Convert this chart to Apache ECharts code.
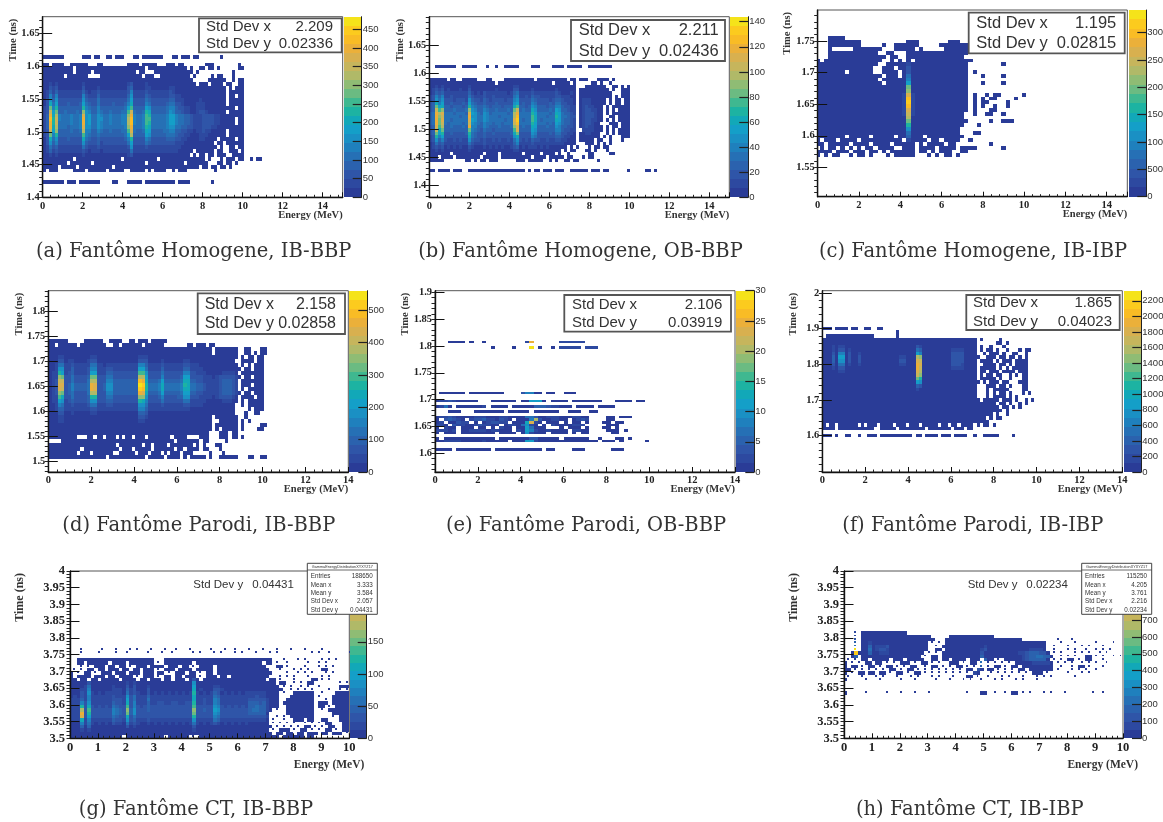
<!DOCTYPE html>
<html><head><meta charset="utf-8">
<script src="https://cdn.jsdelivr.net/npm/echarts@6/dist/echarts.min.js"></script>
<style>html,body{margin:0;padding:0;background:#fff}#c{width:1163px;height:822px;filter:blur(.35px)}</style>
</head><body><div id="c"></div>
<script>
// Cell rows: top to bottom, one character per bin. "." empty, 1-9 then a-k = colour band 1..20.
const rowsA=[
"1111111......111.11..11.111...11.1111111...11.111.11.......1",
"",
"11.1111..111111...11........1111.11111...111.11.......111........1",
"1111111111.11111111111111111111111.1111111111111.1..11.11.1......11",
"1111111111.11111.11111111111111.11...1111111111111.1...........1",
"1111111.1111111....11111111111111.111..1111111111.1.....1.11...1",
"11111111111111111111111111111111111111111111111111.....111111..1.11",
"11 212 11111111 211 1111 11111111 23 1111 21 111111 11 11111 11.111.1111.11..11",
"11 323 11111111 311 1121 11111111 34 1111 22 111111 22 11111 111111111111.1.111",
"12 424 22222222 421 2232 22222222 36 2222 32 222222 32 11111 111111111111.11111",
"12 636 22222222 632 2242 22222222 47 2222 43 222222 33 22111 111111111111.11.11",
"13 747 33333333 743 3353 33333333 58 3333 54 333333 44 22211 111211111111.11111",
"13 958 33343334 854 3353 33343334 69 3333 65 333334 55 33211 112221111111.11111",
"23 c6a 44444444 a65 4464 44444445 8b 4444 87 444445 66 43322 112221111111111.11",
"23 f8c 44544454 d76 4465 44544455 bf 5445 a9 444445 76 44322 112332111111.11111",
"24 h9e 65556556 g78 5576 55655566 dh 6556 ba 555556 88 65544 322233332211111111",
"24 iaf 65556556 h78 5577 55655566 ei 6556 bb 555556 88 65544 322233332211111.11",
"24 haf 55556556 h78 5576 55655566 ei 6556 ba 555556 88 65544 322233332211111.11",
"24 h9e 55545556 g77 5576 55555556 dh 5556 a9 555556 77 55443 322233322111111111",
"23 f8d 44445445 e66 4465 44544455 bg 5445 98 444455 66 44332 212232211111.11111",
"23 c6a 44444444 b65 4454 44444445 8e 4444 87 444445 55 43322 111222111111.11111",
"13 957 33343333 954 3343 33333334 6a 3333 65 333334 44 33221 111221111.11111.11",
"13 746 33333333 743 3342 33333333 58 3333 54 333333 33 22211 11111111.11.111111",
"12 534 22222222 532 2232 22222222 37 2222 32 222222 22 22111 111111111.1..11.11",
"12 423 22222222 321 2221 22222222 25 2222 22 222222 22 21111 1.111111.11..111.1",
"11 212 11111111 211 1111 11111111 23 1111 11 111111 11 11111 .1.11.11.111..1111",
"1111111111.111111111111111.11111111111.111111111111111.1...1.111.11..1.11",
"11111111.1111111.11111111111111111.111111111111.1111111...11.11.1",
"11111.11111.11111111111.1111111111111111111111111111.11.11.11.1",
"1.111.....1111.111111.11111..11111.1.1111..1.111.........1",
"",
"",
"111111 1.111.1111111....11...11111.11111 11 111.11 11.......1"];
const rowsB=[
"..1111111..11111...1..1..11111....111....1111.11111..11111111",
"",
"",
"",
"111111.11..11111...11....1111111111.1111111111.11.111...1111.1",
"11 111 11111111 111 1111 11.11111 11 1111 11 11111. 11 111.1 .....11.1..1",
"11 212 11111111 211 1111 11111111 22 1111 11 111111 11 11111 ...1111111..11.1.1",
"12 323 12111211 311 1111 11211111 33 1111 21 111111 21 11111 .1111111111.1..111",
"12 434 22222222 421 2132 22222212 45 2222 32 222222 32 11121 .11111111111...111",
"23 646 22322222 532 2232 23222222 56 2232 43 322222 33 22211 .11111111111.1.111",
"23 757 33323332 743 3243 23333233 67 3333 54 333323 44 32221 .122211111.1.11.11",
"34 968 33433343 854 3343 33433333 78 3433 65 333343 55 33221 .122211111.1.11.11",
"34 c89 44344434 a65 4454 34443444 9b 4434 76 444344 66 43322 .12322111.1.111111",
"34 fbd 44454445 d76 4465 44544454 cf 4544 97 444454 87 44322 .12332211.1.1.1111",
"45 heg 55545554 g87 5476 45555545 eh 5555 a8 555545 98 54432 .12333211.1.111111",
"45 hdf 55555455 h77 5576 55545555 ei 5555 b9 555455 a8 55433 .12333211..11.1111",
"45 hcg 55455555 g87 5576 55555455 gj 5455 b9 545555 98 54432 .12332211.1.1.1111",
"45 hcf 54555545 f76 5465 54554555 fi 5555 a8 555454 87 54432 .1233211...111.111",
"34 gbe 44544454 h66 4465 44454445 dg 4544 98 444544 76 44332 .12322111.1.11.111",
"34 f9c 44444444 c65 4354 43444444 bg 4444 87 444444 66 43322 ..2222111.1.1.1111",
"34 c8a 33433334 a54 3343 34333334 9c 3333 76 333343 55 33221 .1122111..1.1.1111",
"23 a68 33333333 954 3343 33333333 79 3333 65 333333 44 32211 .1111111.1.1...111",
"23 746 32232322 743 3232 23232232 57 3232 43 322322 33 22111 .11111.11..1...1",
"12 534 22222222 532 2232 22222222 46 2222 32 222222 22 21111 ...111.1.1.1",
"12 323 12121211 321 1121 21212112 34 1212 22 121211 11 11.1. 1...1.11.11",
"11 212 11111111 211 1111 11111111 22 1111 11 111111 11 .1.11 ...11.1...1",
"11 111 11.11111 111 11.1 111.1111 11 1.11 11 1.1111 .1 ..1.. ....11.....11",
"111.1111.11111111.11111.1111111111.1111.11111.11...1.11",
"11111.......11.1.11.111......111.11111..1.1..11.11......1",
"",
"",
"11.1111.111..1111111111111111111.1.11.111.111..111111.111.11......1.....11.1"];
const rowsC=[
"...1111",
"...11111111...........111.......111",
"...11111111.....1..111111.....1111111",
"...1.....1111111...11111.1.....1111111",
"...111111111111..11...111111111111111",
"...11111111111111.11..11111111111111",
"1.11111111111111..1.1.1.11111111111111",
"111111111111111..11111 2 11111111111111........1",
"11111111111111..111.11 3 11111111111111",
"1111111.111111..1111.1 3 11111111111111.1",
"1111111111111111.111.1 5 11111111111111...1....1",
"111111111111111.11111 1 6 11111111111111",
"1111111111111111.1111 1 8 11111111111111...1....1",
"111111111111111111111 1 c 11111111111111",
"111111111111111111111 1 d 11111111111111",
"111111111111111111111 2 g 21111111111111.1..1.11.....1",
"111111111111111111111 2 i 21111111111111.1.1.11....1",
"111111111111111111111 2 j 21111111111111.1.11....1",
"111111111111111111111 2 i 21111111111111.1.1..1..1",
"111111111111111111111 2 g 21111111111111.1...11",
"111111111111111111111 2 f 2111111111111..1..11..1",
"111111111111111111111 1 e 1111111111111",
"111111111111111111111 1 c 11111111111111.....1..111",
"111111111111111111111 1 a 1111111111111...1",
"111111111111111111111 1 7 111111111111",
"111111111111111111111 1 5 111111111111...11",
"1111111.11111.11111.1 1 4 111.111111111",
"1.111.1111.1111111111 . 2 1111.11.1111..1",
"11.11111.1111.1111.11 1 1 1.1.1111.11........1",
".1.11.1.1.1.11.1111.. 1 1 1.1111.1111.1111......1",
"1111.111.111.11.1.111 1 1 1.11.1.111..11",
"1.1.11..1.11.1...1.11 1 1 1...1.1.11.1"];
const rowsD=[
"111111.....111111..1111..11.111.11111",
"11.111111.11111111..11.111111.111111.......11.111.11",
"111111111111111111111111111111111111111111111111111.1111111..11...11",
"111 11 11 1 1111 111 111 11 11111111 111 1111 1 111111 11 1111111 .1111111 ..11.1.11",
"111 22 11 1 1111 122 111 11 11111111 222 1111 1 111111 11 1111111 11111111 .1.11.11",
"111 33 12 2 1111 233 111 11 11111111 333 1111 2 111111 22 1111111 1111111. .1111.11",
"112 55 22 3 2222 255 221 22 22222222 664 2222 3 222222 33 2221111 11111111 .1.1.111",
"112 77 22 4 2222 366 222 33 22222222 885 2222 4 222222 44 2222111 11111111 1.11.111",
"122 a8 23 4 2222 388 222 44 33333333 bb7 3333 5 333333 66 3322211 11122221 .1111111",
"122 dc 33 5 3333 4cc 333 55 33333333 ee8 3333 6 333334 88 3333222 12333332 1.11.111",
"123 ff 33 5 3333 5ee 333 66 44444444 ih9 4445 8 444445 99 4433222 22344432 .1111111",
"123 gg 34 6 4444 5hg 334 77 44444444 kja 5556 9 555556 a9 5544322 22344432 .111.111",
"123 gf 34 6 4444 5hg 334 77 44444444 jia 5556 9 555556 99 5544322 22344432 .1.11111",
"123 dc 34 5 3333 5ee 333 66 44444444 hg9 4445 8 444445 88 4433222 22344432 1.11.111",
"122 b9 33 5 3333 4aa 333 55 33333333 dd7 3334 6 333344 77 3332222 12333321 .1111.11",
"122 87 23 4 3333 477 333 44 33333333 a96 3333 5 333333 55 2222211 11122211 .1.11111",
"112 65 22 3 2222 355 222 33 22222222 775 2222 3 222222 33 2222111 1111111. .1.11111",
"112 44 22 2 2222 233 222 22 22222222 664 2222 2 222222 22 1111111 1111111. ...1.111",
"111 33 11 2 1111 122 111 11 11111111 443 1111 1 111111 11 1111111 1111111. ..1..11.",
"111 22 11 1 1111 111 111 11 11111111 332 1111 1 111111 11 1111111 .1111111 ..1",
"111 22 11 1 1111 111 111 11 11111111 221 1111 1 111111 11 1111111 ..111111 .1.1",
"111 11 11 1 1111 111 111 11 11111111 111 1111 1 111111 11 1111111 .1111111 .1.....11",
"111 11 11 1 1111 111 111 11 11111111 111 1111 1 111111 11 1111111 .1.11111 .1....11",
"111 11 11 1 1111 111 111 11 11111111 111 1111 1 111111 11 111111. ..111.11",
"111111111...11.11.111.1.11.111.1111111.1111....111...111.11.1",
"....11111111111111111111111111111111111.1111111.11.....1",
"111111111111111111111.1111111.11.1111.1111111.1.1...11",
"1111111111.11111111111.111.11111.111111.11.1111.11...1",
"111111111.111.111111..11111.111.111.1.111.111.....1...1",
"111111111111111111.11111111111.11111.1111.1.11111.1..111111...11..11"];
const rowsE=[
"...1111.1..1.........2h......222222",
"",
".............1....1...k.1..1.22222.222",
"","","","","","","","","","","","","","","","",
".111111.11111111....36611.11..111",
"",
"",
"1223211111...111111.11888 1.1111.1111111...1111.11",
"",
"1251.1111112.1111.11111444322111.1111.1111",
"",
"...111...1111111.11111.111111..111..11",
"",
"122321111222111221111553112221112211....11.111",
"1.34321.2334221321.1 116e 3112211.1232 ....11",
"12.11322.1.123322.11 19g2 1.111.1.11.1 ...11.11",
"221.3221123 2211.122 1572 1.1.21111222 .....111",
"1.211.111.11.1.211.1 1851 11...1.111.1 ...11.1",
"22212.112222122111.2 1862 1121111.2211 ....111.1",
"1.111.11111111.1111.1 72 111.1111.1.11 .....11",
"",
"1.111111111111.11111 1133 11111.111111 ..1...11.1",
"11222211111211111.11 1882 111111111111 11.111.1.....1",
"","",
"1111.11111111.11111111111.11....111......111"
];
const rowsF=[
"111.1111.11..11..11",
".......................1",
".111111111111111.......1",
"111 1 1 11 1 1 11 1 111111111111 11 111 11 111111111 1111 1111 .1.....1",
"111 1 1 11 1 1 11 1 111111111111 11 111 11 111111111 1111 1111 ......11.1",
"111 2 1 22 1 1 11 1 111111111111 11 111 32 111111111 1111 1111 .1..1...1",
"111 2 1 33 1 2 11 1 111111111111 11 111 54 111111111 2222 1111 .1.11.1..1...1.11",
"111 3 1 66 1 3 11 2 111111111111 11 111 86 111111111 3333 1111 ..1.111.1..11..1",
"111 4 1 88 1 3 11 3 111111111111 22 111 ed 111111111 3333 1111 1..111.11.11.1.1",
"111 4 1 77 1 3 11 3 111111111111 33 111 gf 111111111 3333 1111 .1111.1.111.1111",
"111 3 1 55 1 2 11 2 111111111111 22 111 hg 111111111 3332 1111 ..1111.11.1.1111",
"111 2 1 33 1 1 11 1 111111111111 11 111 hf 111111111 2222 1111 .11111.1.1.11111",
"111 1 1 22 1 1 11 1 111111111111 11 111 ge 111111111 1111 1111 .11.111.1111.111",
"111 1 1 11 1 1 11 1 111111111111 11 111 fd 111111111 1111 1111 .1.11.11..1.1.11",
"111 1 1 11 1 1 11 1 111111111111 11 111 ca 111111111 1111 1111 .11111.1..1...11",
"111 1 1 11 1 1 11 1 111111111111 11 111 87 111111111 1111 1111 1.1.111.11...111",
"111 1 1 11 1 1 11 1 111111111111 11 111 43 111111111 1111 1111 ...111.11.1...11",
"111 1 1 11 1 1 11 1 111111111111 11 111 21 111111111 1111 1111 ...1.11111....11",
"111 1 1 11 1 1 11 1 111111111111 11 111 11 111111111 1111 1111 ...1.1.11.1...1.1",
"111 1 1 11 1 1 11 1 111111111111 11 111 11 111111111 1111 1111 ...1.1111.1.1",
"111 1 1 11 1 1 11 1 111111111111 11 111 11 111111111 1111 1111 1.11111.111.1..1.1",
"111 1 1 11 1 1 11 1 111111111111 11 111 11 111111111 1111 1111 111111.11.1..1.1",
"111 1 1 11 1 1 11 1 111111111111 11 111 11 111111111 1111 1111 1111111.11.1.1",
"111 1 1 11 1 1 11 1 111111111111 11 111 11 111111111 1111 1111 11111111.1",
"111 1 1 11 1 1 11 1 111111111111 11 111 11 111111111 1111 1111 11111.1..1",
"111 1 1 11 1 1 11 1 111111111111 11 111 11 111111111 1111 1111 111.1.11",
"111 1 1 11 1 1 11 1 111111111111 11 111 11 111111111 1111 1111 1111",
"1.11.111111.1.111.1111.111.111.11111.11.11.1111.1.11.1",
"1111.11111111111..11111.11111111.1111111.111.11",
"",
"111.1..11..1..111.1111111111.11.1111.111.1111..1..11111....1"];
const rowsG=[
"...1.....1...1...1.1...1...1..1...1.....1...1..1...1...1...1...1...1....1",
"...1....1....1..1.....1...1..1.....1.1...1.1...1.1...1...1.1.........1.1..1.....1",
"",
"..1111111111111111111111...1111111111111111111111111111111...1...1.1....1.1.1",
"..11.111111.1111.1111111.1.11111111.1111111111111111111.11.1..1.....1..1.1",
"...1.1.111.11.11.1.111.1111.111.11.1.1111.11111111111111...11.1....1...1.1.1",
".1.1.11.11.111.11.11.111.1.111.1111.11111.111111111111111...1...1.1.1...11",
"1.1.11.1.111.111.111.111.11.1.111.11.1.11.1111111111111111....1..1.1.1...1.1",
"1.1111.111.11.1111.1.111.1.11.11.111.1.111.11.11111111111...1.1.1...1...1.1.",
"11.11.11.11111.1111.11.111.11.111.1 3 1.111111111111111111.11.1...1....11.1.1",
"111 1 1 3 111111 11 11 2 1 2 111 1 111111111111 7 11111 11 11111111 11111 111.11 ..1.1.11 .... ...1.1",
"111 1 2 5 111111 21 11 3 1 3 111 2 111111111111 8 11111 22 11111111 11111 1111.1 .1..1.1. .1.. ...111",
"111 2 2 6 111111 22 21 4 2 3 111 3 111111111111 9 12111 33 21111111 11111 11111. .1.1.1.1 .... 1..1.1",
"111 3 2 7 212122 22 21 5 2 3 211 3 121212121212 a 21212 43 12121212 22222 1111.1 ..111111 ..1. ..1111",
"121 3 2 6 222222 32 22 7 3 5 222 4 222222222222 9 22222 54 22222222 22322 1111.. .1111111 .1.. .11111",
"222 4 2 6 222222 33 32 8 3 5 222 5 222222222222 9 22322 65 22222222 33333 2111.. 11111111 ...1 .11111",
"222 6 3 7 222222 43 32 9 3 6 222 4 223322332233 a 22322 65 22222222 44434 2111.1 11111111 .111 .11111",
"222 a 3 9 323232 54 33 b 3 6 323 4 333333333333 b 33333 76 32323232 44544 2111.. 11111111 .11. 1.1111",
"222 e 3 b 333333 65 43 d 4 7 333 4 333333333333 d 33433 87 33333333 45544 21.1.. 11111111 ..1. 111111",
"222 h 3 a 333333 65 43 c 4 7 333 3 333333333333 c 33333 76 33333333 44444 1..... 11111111 .... .11111",
"222 g 3 8 333333 54 33 9 3 5 333 3 333333333333 a 33333 65 33333333 33333 2..1.1 .1111111 .... .1.111",
"222 9 2 6 222222 43 32 7 3 4 222 3 222222222222 7 22222 54 22222222 22222 1.1..1 ..111.11 ..11 ...111",
"111 6 2 5 212121 32 21 5 2 3 211 2 121212121212 5 21212 32 12121212 11111 1.1.1. 1.1..1.1 .1.1 1...11",
"111 4 1 4 111111 11 11 3 1 2 111 1 111111111111 3 11111 11 11111111 11111 11.1.1 .1.1.11. 1.1. 11..11",
"111 2 1 2 111111 11 11 1 1 1 111 1 111111111111 2 11111 11 11111111 11111 1.1.11 1.1.11.1 .1.1 1.1.11",
"111 1 1 1 111111 11 11 1 1 1 111 1 111111111111 1 11111 11 11111111 11111 11.11. 11.11.11 1.11 .111.1",
"111 1 1 1 111111 11 1.1 1 1 11 111111.111111.1. 1 1111111111 11111111 1111.1 11 111.11"];
const rowsH=[
"...2.1111111111111",
"...2.11111111111111111111.....1111111111111",
"...3.111111111111111111111...1111111111111111111111..........1...1",
"...4.1121111111111111111.1.1.11111111111111111111111111111....1...1.....1....1",
"...5.1141222311111111111..1.111111111111211111111111111111..1...1...1.1...1",
"...k.1151233211111111111..11.11111111112311111111111122221..1...1.1..1..1.1.1",
"..1j1114112221111111111.1.1.1111111111131111111111223444331.1.1...1.1.1..1.1",
"..14.11111111111111111.1.11.11111111111411111111111234455441..1.1.1..11.1.1..1.1",
".1.1.11.11111.111.11111..11.11.1111.111.411.1.1111123444441.1.1.11.1.11...1",
"1.1.1.11.11.1.1.111.1.11.1.1..111.1.11.5.1.1.1.1.11111222221.1.1.1..1.1.1..1",
"1.11.1.11.1.11.1.1.11..1.11.1.1.11.1.1.4.1.11.1.11.111111111..1..1.11.1...1",
"11.1.1.1.1.1.11.1.11.1.1.1.1.1.1.1.11.31.11.1.1.1.11.1111111.1...1.1.1..1",
"1.1.11.11.11.1.11.1.11.1.1.1.1.1.1.1.21...1.1.1.1.1.1.111.1.....1...1.1",
".1...1...1.1...1...1.1...1.1...1...11.1..1...1.1...1...1.1.1......1",
"1.....1...1.....1...1.....1...1...1.1..1...1.1...1.1...1",
"",
"",
"",
"1.....1.....1...1...1...1..........1...11..1..1.11.1.1...1.1...1.......1..1"];
// Colour band palette, bottom to top of the scale.
const bird=["#2a3c97","#2d49a0","#2f55a8","#2b62ae","#2670b5","#1f80bd","#1a90c4","#149fc8","#12a8b8","#1db3a2","#3fb890","#6bbb82","#8fbc74","#b0b968","#c6b55c","#d8b04f","#ebb03a","#f9bc25","#fccb1e","#f5e31a"];
const zMaxes=[484,144,3415,560,30,2330,260,990];
const zTicks=[[0,50,100,150,200,250,300,350,400,450],[0,20,40,60,80,100,120,140],[0,500,1000,1500,2000,2500,3000],[0,100,200,300,400,500],[0,5,10,15,20,25,30],[0,200,400,600,800,1000,1200,1400,1600,1800,2000,2200],[0,50,100,150],[0,100,200,300,400,500,600,700]];
const yTicks=[[1.4,1.45,1.5,1.55,1.6,1.65],[1.4,1.45,1.5,1.55,1.6,1.65],[1.55,1.6,1.65,1.7,1.75],[1.5,1.55,1.6,1.65,1.7,1.75,1.8],[1.6,1.65,1.7,1.75,1.8,1.85,1.9],[1.6,1.7,1.8,1.9,2],[3.5,3.55,3.6,3.65,3.7,3.75,3.8,3.85,3.9,3.95,4],[3.5,3.55,3.6,3.65,3.7,3.75,3.8,3.85,3.9,3.95,4]];
const yRanges=[[1.4,1.676],[1.378,1.7005],[1.5036,1.799],[1.479,1.8405],[1.565,1.903],[1.498,2.0065],[3.5,4],[3.5,4]];
const xMaxes=[15,15,15,14,14,14,10,10];
const xTickEven=[0,2,4,6,8,10,12,14];
const xTickUnit=[0,1,2,3,4,5,6,7,8,9,10];
const captions=["(a) Fantôme Homogene, IB-BBP","(b) Fantôme Homogene, OB-BBP","(c) Fantôme Homogene, IB-IBP","(d) Fantôme Parodi, IB-BBP","(e) Fantôme Parodi, OB-BBP","(f) Fantôme Parodi, IB-IBP","(g) Fantôme CT, IB-BBP","(h) Fantôme CT, IB-IBP"];
const stdX=["2.209","2.211","1.195","2.158","2.106","1.865"];
const stdY=["0.02336","0.02436","0.02815","0.02858","0.03919","0.04023","0.04431","0.02234"];
const statsG=[["Entries","188650"],["Mean x","3.333"],["Mean y","3.584"],["Std Dev x","2.057"],["Std Dev y","0.04431"]];
const statsH=[["Entries","115250"],["Mean x","4.205"],["Mean y","3.761"],["Std Dev x","2.216"],["Std Dev y","0.02234"]];
const statsTitle="GammaEnergyDistributionXYXYZ17";

// Bin layout of each cell table and page layout of each panel.
const bins=[
 {rows:rowsA,x0:0,dx:.15,top:1.618,dy:.006},
 {rows:rowsB,x0:0,dx:.15,top:1.615,dy:.006},
 {rows:rowsC,x0:-.1,dx:.2,top:1.758,dy:.006},
 {rows:rowsD,x0:0,dx:.15,top:1.7445,dy:.008},
 {rows:rowsE,x0:0,dx:.2,top:1.81,dy:.005},
 {rows:rowsF,x0:0,dx:.15,top:1.905,dy:.01},
 {rows:rowsG,x0:0,dx:.125,top:3.77,dy:.01,fine:true},
 {rows:rowsH,x0:0,dx:.125,top:3.82,dy:.01,fine:true}];
const boxes=[
 {g:[42.7,16.7,300,180.6],b:[343.7,18],xn:[0,12],yp:24},
 {g:[429.3,16.7,300,180.6],b:[730.3,18],xn:[0,12],yp:24},
 {g:[817.7,10,309.6,186.7],b:[1128.7,17.6],xn:[0,12],yp:25},
 {g:[48.3,290.7,300,181.3],b:[349.3,18],xn:[0,12],yp:24},
 {g:[435,290.7,300,181.3],b:[736.3,18],xn:[0,12],yp:24},
 {g:[822.3,290.7,300,181.3],b:[1123.7,17.6],xn:[0,12],yp:24},
 {g:[70,571,279.3,167.3],b:[350.3,16.4],xn:[15,21],yp:44},
 {g:[844,571,279,167.3],b:[1124.3,16.7],xn:[15,21],yp:44}];
const capPos=[[193.7,251.5],[580.5,251.5],[973,251.5],[198.8,525.5],[586,525.5],[972.8,525.5],[196,809.5],[969.8,809.5]];
const statBoxes=[
 {r:[199,18.3,142.7,34],l:206,e:333,y:[27,43.5],f:15},
 {r:[571,20,154,41],l:578.7,e:718.7,y:[30.7,51],f:16.5},
 {r:[968.7,12.7,156,40.6],l:976.3,e:1116.3,y:[23.3,43],f:16.5},
 {r:[197.7,293.3,147.3,40.7],l:204.7,e:336,y:[304.3,324],f:16},
 {r:[564.3,295,166.7,36.7],l:572,e:722.3,y:[305,322.7],f:15},
 {r:[966.3,295,153.4,35],l:973,e:1112,y:[303.3,321.7],f:15}];

const SERIF='"Liberation Serif",serif', SANS='"Liberation Sans",sans-serif';
function cellsOf(b,max){
  const out=[];
  b.rows.forEach((raw,r)=>{
    const s=raw.replace(/ /g,'');
    for(let c=0;c<s.length;c++){
      if(s[c]==='.')continue;
      const lvl=parseInt(s[c],36);
      // Isolated speckles in the finely binned CT panels occupy a narrower bin.
      const iso=b.fine&&s[c-1]!==undefined&&s[c-1]==='.'&&(s[c+1]==='.'||s[c+1]===undefined);
      const k=iso?.55:1;
      out.push([b.x0+c*b.dx,b.top-(r+k)*b.dy,b.x0+(c+k)*b.dx,b.top-r*b.dy,(lvl-.5)/20*max]);
    }
  });
  return out;
}
function rectRender(max){
  return function(params,api){
    const a=api.coord([api.value(0),api.value(3)]), z=api.coord([api.value(2),api.value(1)]);
    const x=Math.round(a[0]),y=Math.round(a[1]);
    const band=Math.min(19,Math.floor(api.value(4)/max*20));
    return {type:'rect',silent:true,shape:{x,y,width:Math.round(z[0])-x,height:Math.round(z[1])-y},style:{fill:bird[band]}};
  };
}
function steps(lo,hi,st){const o=[];const n=Math.round((hi-lo)/st);for(let i=0;i<=n;i++)o.push(+(lo+i*st).toFixed(4));return o;}
const grid=[],xAxis=[],yAxis=[],series=[],graphic=[];
boxes.forEach((p,i)=>{
  const big=i>=6, fs=big?12.5:10.5;
  const gi=grid.length, [l,t,w,h]=p.g;
  grid.push({left:l,top:t,width:w,height:h,show:true,borderColor:'#555',borderWidth:1,backgroundColor:'#fff',outerBoundsMode:'none'});
  xAxis.push({gridIndex:gi,type:'value',min:0,max:xMaxes[i],interval:big?1:2,z:5,
    name:'Energy (MeV)',nameLocation:'end',nameGap:p.xn[0],nameMoveOverlap:false,
    nameTextStyle:{fontFamily:SERIF,fontWeight:'bold',fontSize:big?11.5:10.5,color:'#333',align:'right',verticalAlign:'top',padding:[p.xn[1],0,0,0]},
    axisLine:{show:true,onZero:false,lineStyle:{color:'#111',width:1.4}},
    axisTick:{show:true,inside:true,length:5,lineStyle:{color:'#111',width:1}},
    minorTick:{show:true,splitNumber:5,length:2.5,lineStyle:{color:'#222',width:1}},
    splitLine:{show:false},minorSplitLine:{show:false},
    axisLabel:{fontFamily:SERIF,fontWeight:'bold',fontSize:fs,color:'#222',margin:3,customValues:big?xTickUnit:xTickEven,hideOverlap:false}});
  const [ymin,ymax]=yRanges[i];
  const mj=yTicks[i], mstep=i===5?.02:.01;
  const first=Math.ceil(ymin/mstep-1e-6)*mstep;
  const minor=steps(first,Math.floor(ymax/mstep+1e-6)*mstep,mstep);
  const yi=yAxis.length;
  yAxis.push({gridIndex:gi,type:'value',min:ymin,max:ymax,z:5,
    name:'Time (ns)',nameLocation:'end',nameGap:-2,nameRotate:90,nameMoveOverlap:false,
    nameTextStyle:{fontFamily:SERIF,fontWeight:'bold',fontSize:big?12:10.5,color:'#333',align:'right',verticalAlign:'bottom',padding:[0,0,p.yp,0]},
    axisLine:{show:true,onZero:false,lineStyle:{color:'#111',width:1.4}},
    axisTick:{show:true,inside:true,length:9.5,lineStyle:{color:'#111',width:1},customValues:mj},
    splitLine:{show:false},
    axisLabel:{fontFamily:SERIF,fontWeight:'bold',fontSize:fs,color:'#222',margin:big?5:3,customValues:mj,hideOverlap:false}});
  yAxis.push({gridIndex:gi,type:'value',min:ymin,max:ymax,z:5,axisLine:{show:false},
    axisTick:{show:true,inside:true,length:3.5,lineStyle:{color:'#222',width:1},customValues:minor},
    splitLine:{show:false},axisLabel:{show:false}});
  series.push({type:'custom',coordinateSystem:'cartesian2d',xAxisIndex:xAxis.length-1,yAxisIndex:yi,z:1,clip:true,silent:true,progressive:0,
    animation:false,dimensions:['x0','y0','x1','y1','count'],encode:{x:[0,2],y:[1,3]},
    renderItem:rectRender(zMaxes[i]),data:cellsOf(bins[i],zMaxes[i])});
  // colour scale
  const gb=grid.length, zm=zMaxes[i];
  grid.push({left:p.b[0],top:t,width:p.b[1],height:h,outerBoundsMode:'none'});
  xAxis.push({gridIndex:gb,type:'value',min:0,max:1,show:false});
  const zi=yAxis.length;
  yAxis.push({gridIndex:gb,type:'value',position:'right',min:0,max:zm,z:5,
    axisLine:{show:true,onZero:false,lineStyle:{color:'#222',width:1}},
    axisTick:{show:true,inside:true,length:9,lineStyle:{color:'#222',width:1.2},customValues:zTicks[i]},
    splitLine:{show:false},
    axisLabel:{fontFamily:SANS,fontSize:9.5,color:'#333',margin:1,customValues:zTicks[i],hideOverlap:false,formatter:v=>String(v)}});
  series.push({type:'custom',coordinateSystem:'cartesian2d',xAxisIndex:xAxis.length-1,yAxisIndex:zi,z:1,silent:true,progressive:0,animation:false,
    encode:{x:[0,2],y:[1,3]},renderItem:rectRender(zm),
    data:bird.map((_,k)=>[0,k/20*zm,1,(k+1)/20*zm,(k+.5)/20*zm])});
  // caption
  graphic.push({type:'text',z:50,style:{text:captions[i],x:capPos[i][0],y:capPos[i][1],align:'center',verticalAlign:'middle',font:'19.5px "DejaVu Serif",serif',fill:'#333'}});
});
statBoxes.forEach((s,i)=>{
  graphic.push({type:'rect',z:50,shape:{x:s.r[0],y:s.r[1],width:s.r[2],height:s.r[3]},style:{fill:'#fff',stroke:'#555',lineWidth:1.8}});
  const font=s.f+'px '+SANS;
  [["Std Dev x",stdX[i]],["Std Dev y",stdY[i]]].forEach((row,k)=>{
    graphic.push({type:'text',z:51,style:{text:row[0],x:s.l,y:s.y[k],align:'left',verticalAlign:'middle',font,fill:'#333'}});
    graphic.push({type:'text',z:51,style:{text:row[1],x:s.e,y:s.y[k],align:'right',verticalAlign:'middle',font,fill:'#333'}});
  });
});
[[statsG,307.3,193.3,252.3,6],[statsH,1081.7,967.7,1026.3,7]].forEach(([rows,bx,lx,vx,si])=>{
  graphic.push({type:'text',z:51,style:{text:"Std Dev y",x:lx,y:585,align:'left',verticalAlign:'middle',font:'11.5px '+SANS,fill:'#333'}});
  graphic.push({type:'text',z:51,style:{text:stdY[si],x:vx,y:585,align:'left',verticalAlign:'middle',font:'11.5px '+SANS,fill:'#333'}});
  graphic.push({type:'rect',z:50,shape:{x:bx,y:563.3,width:70,height:51},style:{fill:'#fff',stroke:'#444',lineWidth:1}});
  graphic.push({type:'line',z:51,shape:{x1:bx,y1:570,x2:bx+70,y2:570},style:{stroke:'#444',lineWidth:.8}});
  graphic.push({type:'text',z:51,style:{text:statsTitle,x:bx+35,y:567,align:'center',verticalAlign:'middle',font:'3.8px '+SANS,fill:'#333'}});
  const ys=[576.7,585,593,601.3,610];
  rows.forEach((r,k)=>{
    graphic.push({type:'text',z:51,style:{text:r[0],x:bx+3.4,y:ys[k],align:'left',verticalAlign:'middle',font:'6.3px '+SANS,fill:'#333'}});
    graphic.push({type:'text',z:51,style:{text:r[1],x:bx+65.4,y:ys[k],align:'right',verticalAlign:'middle',font:'6.3px '+SANS,fill:'#333'}});
  });
});
const chart=echarts.init(document.getElementById('c'),null,{renderer:'canvas'});
chart.setOption({animation:false,backgroundColor:'#fff',grid,xAxis,yAxis,series,graphic:{elements:graphic}});
</script></body></html>
